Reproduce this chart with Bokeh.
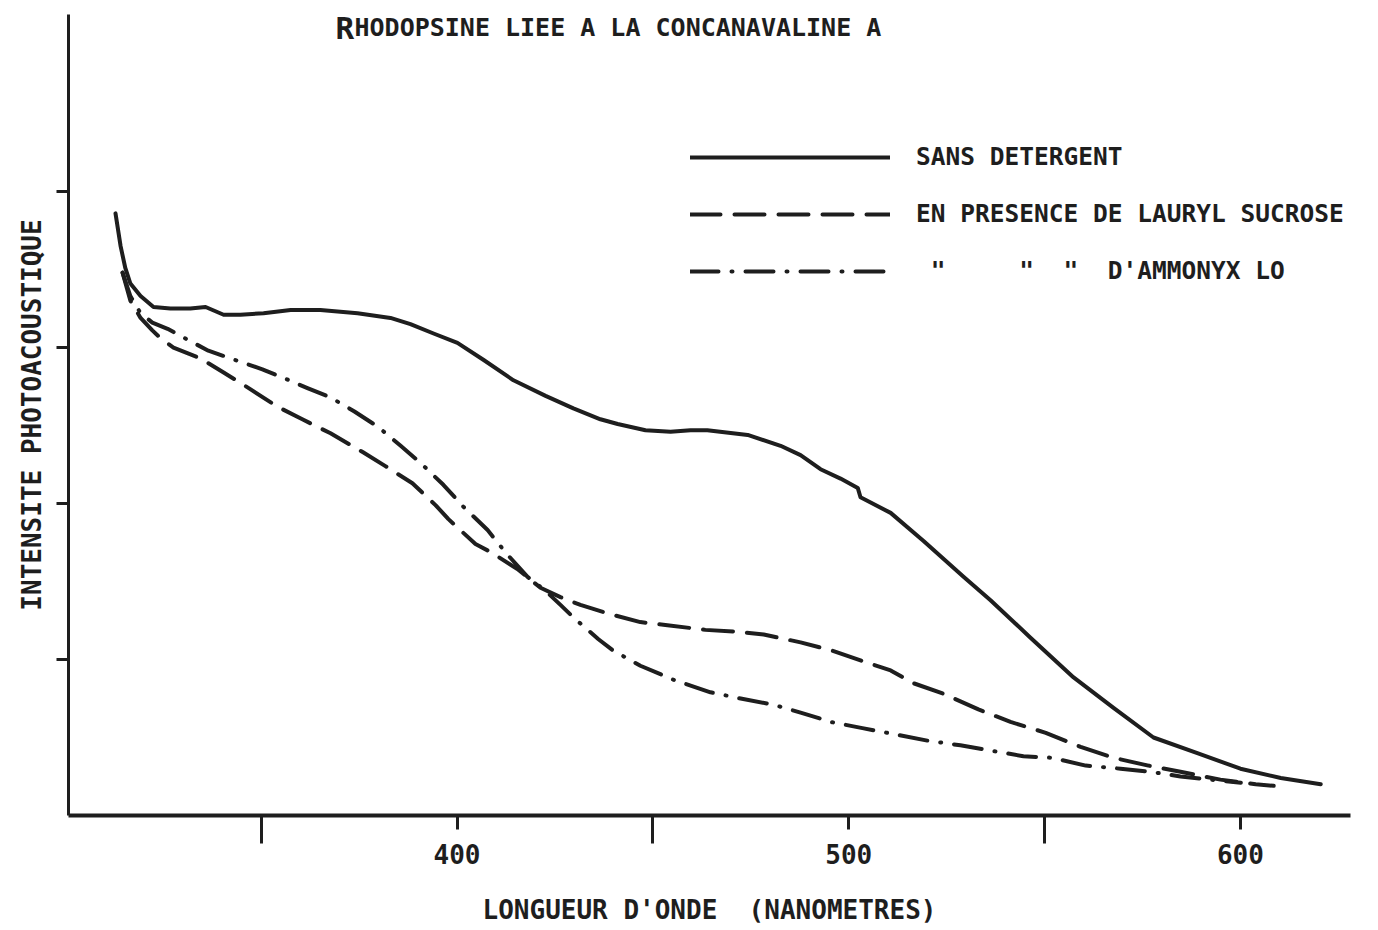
from bokeh.plotting import figure
from bokeh.models import Range1d, FixedTicker, Label, Legend, LegendItem
from bokeh.embed import file_html
from bokeh.resources import INLINE

# ---------------- data ----------------
title_first = "R"
title_rest = "HODOPSINE LIEE A LA CONCANAVALINE A"
x_label = "LONGUEUR D'ONDE\u00a0\u00a0(NANOMETRES)"
y_label = "INTENSITE PHOTOACOUSTIQUE"
series_labels = [
    "SANS DETERGENT",
    "EN PRESENCE DE LAURYL SUCROSE",
    "\u00a0\"\u00a0\u00a0\u00a0\u00a0\u00a0\"\u00a0\u00a0\"\u00a0\u00a0D'AMMONYX LO",
]
x_major_ticks = [400, 500, 600]
x_minor_ticks = [350, 450, 550]
y_ticks = [1, 2, 3, 4]

sans_x = [312.8, 314.1, 315.3, 316.6, 319.2, 322.5, 326.8, 331.9, 335.8, 340.4,
          344.7, 350.6, 357.5, 365.1, 374.6, 383.0, 388.1, 394.0, 400.1, 406.8,
          414.4, 422.6, 429.7, 436.6, 441.0, 448.1, 454.5, 459.6, 463.9, 474.2,
          482.6, 487.7, 492.8, 497.9, 502.3, 503.0, 510.7, 519.1, 529.3, 536.2,
          546.4, 557.4, 567.6, 577.8, 589.0, 600.0, 610.3, 620.5]
sans_y = [3.86, 3.65, 3.51, 3.41, 3.33, 3.26, 3.25, 3.25, 3.26, 3.21,
          3.21, 3.22, 3.24, 3.24, 3.22, 3.19, 3.15, 3.09, 3.03, 2.92,
          2.79, 2.69, 2.61, 2.54, 2.51, 2.47, 2.46, 2.47, 2.47, 2.44,
          2.37, 2.31, 2.22, 2.16, 2.10, 2.04, 1.94, 1.76, 1.53, 1.38,
          1.14, 0.885, 0.69, 0.50, 0.40, 0.30, 0.24, 0.20]

lauryl_x = [314.6, 316.6, 319.2, 322.2, 324.3, 327.6, 334.5, 340.4, 346.8, 354.2,
            360.5, 367.7, 375.9, 381.7, 388.6, 394.5, 397.8, 404.7, 408.5, 415.4,
            421.3, 426.4, 431.5, 439.2, 446.8, 453.7, 463.4, 470.6, 478.3, 487.7,
            495.4, 503.5, 510.7, 516.3, 524.2, 533.1, 541.3, 550.3, 559.2, 567.6,
            576.5, 584.7, 594.9, 603.9, 608.5]
lauryl_y = [3.48, 3.30, 3.19, 3.11, 3.06, 3.00, 2.93, 2.84, 2.74, 2.62,
            2.54, 2.45, 2.33, 2.24, 2.13, 1.99, 1.90, 1.74, 1.69, 1.58,
            1.46, 1.40, 1.35, 1.29, 1.24, 1.22, 1.19, 1.18, 1.16, 1.11,
            1.06, 0.99, 0.93, 0.85, 0.78, 0.68, 0.60, 0.53, 0.44, 0.37,
            0.32, 0.28, 0.23, 0.20, 0.19]

ammonyx_x = [314.6, 316.6, 319.2, 322.2, 326.1, 331.2, 336.5, 342.2, 350.3, 356.2,
             361.8, 367.7, 373.8, 379.9, 385.6, 390.7, 396.5, 401.6, 407.8, 412.6,
             418.0, 422.6, 426.4, 429.7, 436.1, 439.7, 446.8, 455.3, 464.7, 472.4,
             480.8, 487.7, 495.4, 503.5, 511.9, 520.1, 528.5, 535.4, 544.6, 552.0,
             560.5, 569.4, 577.1, 584.7, 592.4, 600.1]
ammonyx_y = [3.48, 3.33, 3.22, 3.16, 3.12, 3.05, 2.98, 2.93, 2.86, 2.80,
             2.74, 2.68, 2.59, 2.49, 2.37, 2.26, 2.12, 1.98, 1.83, 1.68,
             1.53, 1.44, 1.35, 1.27, 1.13, 1.06, 0.96, 0.87, 0.79, 0.75,
             0.71, 0.66, 0.60, 0.56, 0.52, 0.48, 0.45, 0.42, 0.38, 0.37,
             0.32, 0.30, 0.28, 0.25, 0.23, 0.21]

# ---------------- styling ----------------
INK = "#1e1e1e"
FONT = "DejaVu Sans Mono"

p = figure(width=1378, height=930,
           x_range=Range1d(300.8, 628.1), y_range=Range1d(0, 5.135),
           output_backend="svg", toolbar_location=None,
           min_border_left=68, min_border_right=28,
           min_border_top=14, min_border_bottom=115)
p.outline_line_color = None
p.grid.visible = False
p.background_fill_color = "white"
p.border_fill_color = "white"

r_sans = p.line(sans_x, sans_y, line_color=INK, line_width=4, line_join="round", line_cap="round")
r_laur = p.line(lauryl_x, lauryl_y, line_color=INK, line_width=4, line_dash="30 14",
                line_cap="round", line_join="round")
r_ammo = p.line(ammonyx_x, ammonyx_y, line_color=INK, line_width=4, line_dash="28 13 1 13",
                line_cap="round", line_join="round")

# x axis
xa = p.xaxis[0]
xa.ticker = FixedTicker(ticks=x_major_ticks, minor_ticks=x_minor_ticks)
xa.axis_line_width = 4
xa.axis_line_color = INK
xa.major_tick_out = 14
xa.major_tick_in = 0
xa.minor_tick_out = 28
xa.minor_tick_in = 0
xa.major_tick_line_width = 3
xa.minor_tick_line_width = 3
xa.major_tick_line_color = INK
xa.minor_tick_line_color = INK
xa.major_label_standoff = 0
xa.major_label_text_font = FONT
xa.major_label_text_font_style = "bold"
xa.major_label_text_font_size = "26px"
xa.major_label_text_color = INK
xa.axis_label = x_label
xa.axis_label_text_font = FONT
xa.axis_label_text_font_style = "bold"
xa.axis_label_text_font_size = "26px"
xa.axis_label_text_color = INK
xa.axis_label_standoff = 28

# y axis: unlabeled ticks drawn as minor ticks
ya = p.yaxis[0]
ya.ticker = FixedTicker(ticks=[], minor_ticks=y_ticks)
ya.axis_line_width = 3
ya.axis_line_color = INK
ya.major_tick_out = 12
ya.major_tick_in = 0
ya.minor_tick_out = 12
ya.minor_tick_in = 0
ya.minor_tick_line_width = 3
ya.minor_tick_line_color = INK
ya.axis_label = y_label
ya.axis_label_text_font = FONT
ya.axis_label_text_font_style = "bold"
ya.axis_label_text_font_size = "26px"
ya.axis_label_text_color = INK
ya.axis_label_standoff = 10

# title (screen units, relative to the plot frame)
def lab(text, x, y, size, **kw):
    p.add_layout(Label(x=x, y=y, x_units="screen", y_units="screen", text=text,
                       text_font=FONT, text_font_style="bold", text_font_size=size,
                       text_color=INK, **kw))

lab(title_first, 267, 788, "31px", text_baseline="alphabetic", text_align="left")
lab(title_rest, 286, 788, "25px", text_baseline="alphabetic", text_align="left")

legend = Legend(items=[LegendItem(label=series_labels[0], renderers=[r_sans]),
                       LegendItem(label=series_labels[1], renderers=[r_laur]),
                       LegendItem(label=series_labels[2], renderers=[r_ammo])],
                location=(622, 530), orientation="vertical",
                glyph_width=200, glyph_height=22, label_height=22,
                label_standoff=26, spacing=28, padding=0, margin=0,
                border_line_alpha=0, background_fill_alpha=0,
                label_text_font=FONT, label_text_font_style="bold",
                label_text_font_size="24.5px", label_text_color=INK)
p.add_layout(legend)

open("out.html", "w").write(file_html(p, INLINE))
